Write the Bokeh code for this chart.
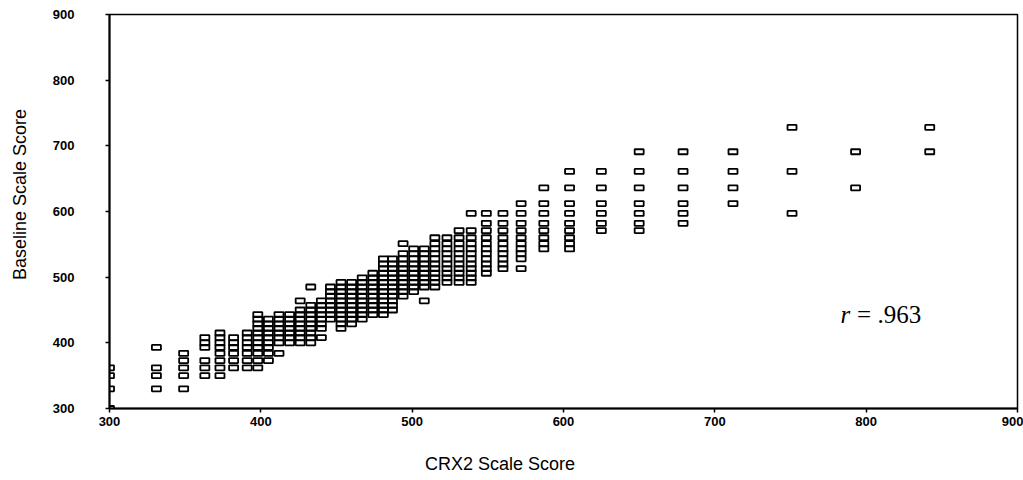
import math
from bokeh.plotting import figure
from bokeh.models import Range1d, FixedTicker, Label, ColumnDataSource
from bokeh.embed import file_html
from bokeh.resources import INLINE

# CRX2 scale score columns and the baseline scale scores observed at each
crx2_scores = [300, 331, 349, 363, 373, 382, 391, 398, 405, 412, 419, 426, 433,
               440, 446, 453, 460, 467, 474, 481, 487, 494, 501, 508, 515, 523,
               531, 539, 549, 560, 572, 587, 604, 625, 650, 679, 712, 751, 793, 842]

baseline_by_crx2 = [
    [300, 330, 350, 362],
    [330, 350, 362, 393],
    [330, 350, 362, 373, 384],
    [350, 362, 373, 393, 400, 408],
    [350, 362, 373, 384, 393, 400, 408, 415],
    [362, 373, 384, 393, 400, 408],
    [362, 373, 384, 393, 400, 408, 415],
    [362, 373, 384, 393, 400, 408, 415, 422, 429, 436, 443],
    [373, 384, 393, 400, 408, 415, 422, 429, 436],
    [384, 400, 408, 415, 422, 429, 436, 443],
    [400, 408, 415, 422, 429, 436, 443],
    [400, 408, 415, 422, 429, 436, 443, 450, 464],
    [400, 408, 415, 422, 429, 436, 443, 450, 457, 485],
    [408, 422, 429, 436, 443, 450, 457, 464],
    [436, 443, 450, 457, 464, 471, 478, 485],
    [422, 429, 436, 443, 450, 457, 464, 471, 478, 485, 492],
    [429, 436, 443, 450, 457, 464, 471, 478, 485, 492],
    [436, 443, 450, 457, 464, 471, 478, 485, 492, 499],
    [443, 450, 457, 464, 471, 478, 485, 492, 499, 506],
    [443, 450, 457, 464, 471, 478, 485, 492, 499, 506, 513, 520, 528],
    [450, 457, 464, 471, 478, 485, 492, 499, 506, 513, 520, 528],
    [471, 478, 485, 492, 499, 506, 513, 520, 528, 536, 551],
    [478, 485, 492, 499, 506, 513, 520, 528, 536, 543],
    [464, 485, 492, 499, 506, 513, 520, 528, 536, 543],
    [485, 492, 499, 506, 513, 520, 528, 536, 543, 551, 560],
    [492, 499, 506, 513, 520, 528, 536, 543, 551, 560],
    [492, 499, 506, 513, 520, 528, 536, 543, 551, 560, 571],
    [492, 499, 506, 513, 520, 528, 536, 543, 551, 560, 571, 597],
    [506, 513, 520, 528, 536, 543, 551, 560, 571, 582, 597],
    [513, 520, 528, 536, 543, 551, 560, 571, 582, 597],
    [513, 528, 536, 543, 551, 560, 571, 582, 597, 612],
    [543, 551, 560, 571, 582, 597, 612, 636],
    [543, 551, 560, 571, 582, 597, 612, 636, 661],
    [571, 582, 597, 612, 636, 661],
    [571, 582, 597, 612, 636, 661, 691],
    [582, 597, 612, 636, 661, 691],
    [612, 636, 661, 691],
    [597, 661, 728],
    [636, 691],
    [691, 728],
]

axis_ticks = [300, 400, 500, 600, 700, 800, 900]
x_title = "CRX2 Scale Score"
y_title = "Baseline Scale Score"
correlation_text = "= .963"

xs, ys = [], []
for cx, col in zip(crx2_scores, baseline_by_crx2):
    for by in col:
        xs.append(cx)
        ys.append(by)
source = ColumnDataSource(data=dict(crx2=xs, baseline=ys))

p = figure(width=1023, height=480, output_backend="svg", toolbar_location=None,
           x_range=Range1d(300, 900), y_range=Range1d(300, 900),
           min_border_left=109, min_border_right=6,
           min_border_top=14, min_border_bottom=72)
p.background_fill_color = "white"
p.border_fill_color = "white"
p.outline_line_color = "black"
p.outline_line_width = 1.5
p.xgrid.visible = False
p.ygrid.visible = False

p.rect(x="crx2", y="baseline", source=source, width=9, height=5,
       width_units="screen", height_units="screen",
       fill_color=None, line_color="black", line_width=1.8)

for ax in (p.xaxis[0], p.yaxis[0]):
    ax.ticker = FixedTicker(ticks=axis_ticks)
    ax.axis_line_color = "black"
    ax.axis_line_width = 2
    ax.major_tick_out = 4
    ax.major_tick_in = 0
    ax.major_tick_line_width = 1.5
    ax.minor_tick_out = 0
    ax.minor_tick_in = 0
    ax.major_label_text_font = "Liberation Sans"
    ax.major_label_text_font_style = "bold"
    ax.major_label_text_font_size = "13px"
    ax.major_label_text_color = "black"

p.xaxis.major_label_standoff = 4
p.yaxis.major_label_standoff = 31

# axis titles, drawn in the side panels next to the axes
p.add_layout(Label(x=558, y=-15, x_units="data", y_units="screen", text=x_title,
                   text_font="Liberation Sans", text_font_size="18px",
                   text_align="center", text_baseline="middle",
                   text_color="black"), "below")
p.add_layout(Label(x=-10, y=626, x_units="screen", y_units="data", text=y_title,
                   text_font="Liberation Sans", text_font_size="18px",
                   text_align="center", text_baseline="middle",
                   text_color="black", angle=math.pi / 2), "left")

# correlation note
p.add_layout(Label(x=783, y=443, text="r", text_font="Liberation Serif",
                   text_font_style="italic", text_font_size="25px",
                   text_baseline="middle", text_color="black"))
p.add_layout(Label(x=794, y=443, text=correlation_text, text_font="Liberation Serif",
                   text_font_size="25px", text_baseline="middle", text_color="black"))

open("out.html", "w").write(file_html(p, INLINE))
